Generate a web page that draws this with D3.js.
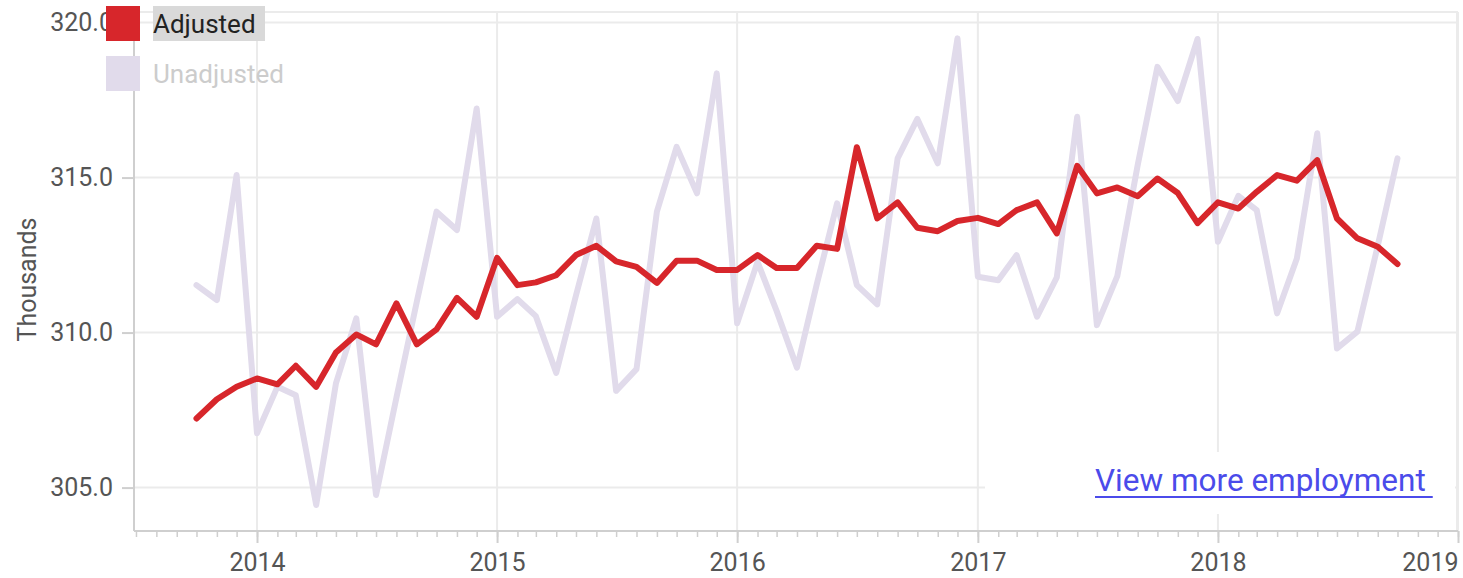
<!DOCTYPE html>
<html>
<head>
<meta charset="utf-8">
<script src="https://cdn.jsdelivr.net/npm/d3@7"></script>
<style>
  html, body { margin: 0; padding: 0; background: #fff; }
  svg { display: block; font-family: Roboto, "Open Sans", sans-serif; }
</style>
</head>
<body>
<svg id="chart" width="1463" height="578"></svg>
<script>
const months = [
  "2013-10","2013-11","2013-12",
  "2014-01","2014-02","2014-03","2014-04","2014-05","2014-06","2014-07","2014-08","2014-09","2014-10","2014-11","2014-12",
  "2015-01","2015-02","2015-03","2015-04","2015-05","2015-06","2015-07","2015-08","2015-09","2015-10","2015-11","2015-12",
  "2016-01","2016-02","2016-03","2016-04","2016-05","2016-06","2016-07","2016-08","2016-09","2016-10","2016-11","2016-12",
  "2017-01","2017-02","2017-03","2017-04","2017-05","2017-06","2017-07","2017-08","2017-09","2017-10","2017-11","2017-12",
  "2018-01","2018-02","2018-03","2018-04","2018-05","2018-06","2018-07","2018-08","2018-09","2018-10"
];
const adjusted = [
  307.23,307.85,308.25,
  308.52,308.33,308.93,308.25,309.36,309.94,309.62,310.94,309.62,310.10,311.12,310.51,
  312.41,311.53,311.62,311.85,312.50,312.80,312.30,312.12,311.60,312.32,312.32,312.02,
  312.02,312.50,312.08,312.08,312.80,312.70,315.98,313.68,314.20,313.38,313.27,313.60,
  313.70,313.50,313.95,314.20,313.20,315.38,314.49,314.68,314.40,314.97,314.50,313.53,
  314.20,314.00,314.54,315.08,314.90,315.56,313.68,313.04,312.77,312.21
];
const unadjusted = [
  311.53,311.05,315.08,
  306.75,308.25,307.98,304.44,308.36,310.46,304.76,307.90,311.00,313.90,313.31,317.23,
  310.51,311.08,310.53,308.70,311.20,313.68,308.12,308.82,313.90,315.99,314.49,318.36,
  310.30,312.28,310.70,308.87,311.55,314.17,311.53,310.91,315.62,316.89,315.46,319.49,
  311.80,311.69,312.50,310.51,311.78,316.96,310.24,311.82,315.40,318.57,317.47,319.47,
  312.93,314.41,313.95,310.62,312.39,316.43,309.49,310.03,312.80,315.62
];
const yTicks = [305, 310, 315, 320];
const xTickYears = ["2014","2015","2016","2017","2018","2019"];
const xDomain = ["2013-06-28", "2019-01-01"];
const yDomain = [303.6, 320.34];
const seriesNames = ["Adjusted", "Unadjusted"];
const yLabel = "Thousands";
const linkText = "View more employment";

const parse = d3.timeParse("%Y-%m-%d");
const parseM = d3.timeParse("%Y-%m");
const parseY = d3.timeParse("%Y");

const W = 1463, H = 578;
const m = { left: 134, right: 5, top: 12, bottom: 47 };
const svg = d3.select("#chart");

const x = d3.scaleTime().domain(xDomain.map(parse)).range([m.left, W - m.right]);
const y = d3.scaleLinear().domain(yDomain).range([H - m.bottom, m.top]);

const gridColor = "#ebebeb";
const axisColor = "#cfcfcf";
const textColor = "#555";

// frame (top / right)
svg.append("line").attr("x1", x.range()[0]).attr("x2", x.range()[1])
  .attr("y1", y.range()[1]).attr("y2", y.range()[1])
  .attr("stroke", gridColor).attr("stroke-width", 2);
svg.append("line").attr("x1", x.range()[1] - 1).attr("x2", x.range()[1] - 1)
  .attr("y1", y.range()[1]).attr("y2", y.range()[0])
  .attr("stroke", gridColor).attr("stroke-width", 2);

// gridlines
svg.append("g").selectAll("line").data(yTicks).join("line")
  .attr("x1", x.range()[0]).attr("x2", x.range()[1])
  .attr("y1", d => y(d)).attr("y2", d => y(d))
  .attr("stroke", gridColor).attr("stroke-width", 2);
svg.append("g").selectAll("line").data(xTickYears.map(parseY)).join("line")
  .attr("x1", d => x(d)).attr("x2", d => x(d))
  .attr("y1", y.range()[1]).attr("y2", y.range()[0])
  .attr("stroke", gridColor).attr("stroke-width", 2);

// y axis
const yAxis = svg.append("g").attr("transform", `translate(${m.left},0)`)
  .call(d3.axisLeft(y).tickValues(yTicks).tickFormat(d3.format(".1f")).tickSize(12).tickPadding(9));
yAxis.select(".domain").attr("stroke", axisColor).attr("stroke-width", 2)
  .attr("d", `M0,${y.range()[0]}V${y.range()[1]}`);
yAxis.selectAll(".tick line").attr("stroke", axisColor).attr("stroke-width", 2);
yAxis.selectAll(".tick text").attr("fill", textColor).style("font-size", "25px")
  .style("font-family", "Roboto, sans-serif");

// x axis: monthly minor ticks
const xAxisMinor = svg.append("g").attr("transform", `translate(0,${H - m.bottom})`)
  .call(d3.axisBottom(x).ticks(d3.timeMonth.every(1)).tickSize(6).tickFormat(""));
xAxisMinor.select(".domain").attr("stroke", axisColor).attr("stroke-width", 2)
  .attr("d", `M${x.range()[0]},0H${x.range()[1]}`);
xAxisMinor.selectAll(".tick line").attr("stroke", axisColor).attr("stroke-width", 1.5);

const xAxis = svg.append("g").attr("transform", `translate(0,${H - m.bottom})`)
  .call(d3.axisBottom(x).tickValues(xTickYears.map(parseY)).tickSize(12).tickPadding(10)
    .tickFormat(d3.timeFormat("%Y")));
xAxis.select(".domain").remove();
xAxis.selectAll(".tick line").attr("stroke", axisColor).attr("stroke-width", 2);
xAxis.selectAll(".tick text").attr("fill", textColor).style("font-size", "25px")
  .style("font-family", "Roboto, sans-serif");
xAxis.selectAll(".tick text").filter(d => +d === +parseY("2019")).attr("text-anchor", "end").attr("dx", 0);

// y label
svg.append("text")
  .attr("transform", `translate(36,${(y.range()[0] + y.range()[1]) / 2 + 8}) rotate(-90)`)
  .attr("text-anchor", "middle").attr("fill", textColor)
  .style("font-size", "25px").text(yLabel);

// lines
const line = d3.line().x((d, i) => x(parseM(months[i]))).y(d => y(d));
svg.append("path").datum(unadjusted).attr("d", line)
  .attr("fill", "none").attr("stroke", "#e1dbeb").attr("stroke-width", 6)
  .attr("stroke-linejoin", "round").attr("stroke-linecap", "round");
svg.append("path").datum(adjusted).attr("d", line)
  .attr("fill", "none").attr("stroke", "#d7262b").attr("stroke-width", 6)
  .attr("stroke-linejoin", "round").attr("stroke-linecap", "round");

// link box
const link = svg.append("g");
link.append("rect").attr("x", 985).attr("y", 452).attr("width", W - 985 - 8).attr("height", 62).attr("fill", "#fff");
const lt = link.append("text").attr("x", 1095).attr("y", 491)
  .attr("fill", "#4b4bea").style("font-size", "31.5px").text(linkText);
const lw = lt.node().getComputedTextLength();
link.append("line").attr("x1", 1095).attr("x2", 1095 + lw + 7)
  .attr("y1", 497).attr("y2", 497).attr("stroke", "#4b4bea").attr("stroke-width", 2);

// legend
const legend = svg.append("g");
const colors = ["#d7262b", "#e1dbeb"];
seriesNames.forEach((name, i) => {
  const g = legend.append("g").attr("transform", `translate(106,${6 + i * 50})`);
  if (i === 0) {
    g.append("rect").attr("x", 47).attr("y", 0).attr("width", 112).attr("height", 35).attr("fill", "#d9d9d9");
  }
  g.append("rect").attr("width", 34).attr("height", 35).attr("fill", colors[i]);
  g.append("text").attr("x", 47).attr("y", 27)
    .attr("fill", i === 0 ? "#222" : "#cccccc").style("font-size", "26px").text(name);
});
</script>
</body>
</html>
